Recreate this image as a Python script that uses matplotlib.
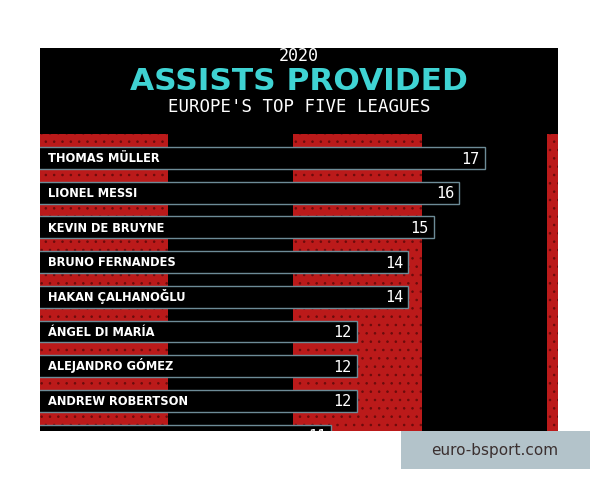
import matplotlib
matplotlib.use("Agg")
from matplotlib import pyplot as plt
import matplotlib.patches as mpatches

players = ["THOMAS MÜLLER", "LIONEL MESSI", "KEVIN DE BRUYNE", "BRUNO FERNANDES",
           "HAKAN ÇALHANOĞLU", "ÁNGEL DI MARÍA", "ALEJANDRO GÓMEZ",
           "ANDREW ROBERTSON", "JADON SANCHO"]
assists = [17, 16, 15, 14, 14, 12, 12, 12, 11]

year = "2020"
title = "ASSISTS PROVIDED"
subtitle = "EUROPE'S TOP FIVE LEAGUES"
watermark = "euro-bsport.com"

W, H = 600, 480
plt.rcParams["hatch.linewidth"] = 0.6


def box(x0, y0, x1, y1):
    # pixel box (top-left origin) -> figure fraction rect
    return [x0 / W, 1 - y1 / H, (x1 - x0) / W, (y1 - y0) / H]


fig = plt.figure(figsize=(6, 4.8), dpi=100)
fig.patch.set_facecolor("white")

# background panel with red stripes
bg = fig.add_axes(box(40, 48, 558, 431))
bg.set_xlim(40, 558)
bg.set_ylim(431, 48)
bg.set_facecolor("black")
for s in bg.spines.values():
    s.set_visible(False)
bg.set_xticks([])
bg.set_yticks([])
for x0, x1 in [(40, 168), (293, 422), (547, 558)]:
    bg.add_patch(mpatches.Rectangle((x0, 134), x1 - x0, 300, facecolor="#bb1a1a",
                                    edgecolor="#6a0c0c", hatch="..", lw=0))

# bars
ax = fig.add_axes(box(40, 48, 558, 431))
ax.patch.set_alpha(0)
ax.set_xlim(-0.383, 19.85)
ax.set_ylim(7.87, -3.17)
for s in ax.spines.values():
    s.set_visible(False)
ax.set_xticks([])
ax.set_yticks([])

idx = list(range(len(players)))
ax.barh(idx, [v + 1 for v in assists], left=-1, height=0.63, color="black",
        edgecolor="#6d8b97", linewidth=1)
for i, (name, v) in enumerate(zip(players, assists)):
    # baseline placed so capitals sit centred in the bar
    ax.text(-0.07, i + 0.125, name, color="white", fontsize=8.3, fontweight="bold",
            va="baseline", ha="left", clip_on=True)
    ax.text(v - 0.2, i + 0.16, str(v), color="white", fontsize=11,
            family="DejaVu Sans Mono", va="baseline", ha="right", clip_on=True)

# titles
fig.text(299 / W, 1 - 56 / H, year, color="white", fontsize=12,
         family="DejaVu Sans Mono", ha="center", va="center")
fig.text(299 / W, 1 - 81 / H, title, color="#3fd3d3", fontsize=22.5,
         fontweight="heavy", ha="center", va="center")
fig.text(299 / W, 1 - 107 / H, subtitle, color="white", fontsize=12.5,
         family="DejaVu Sans Mono", ha="center", va="center")

# watermark
fig.patches.append(mpatches.Rectangle((401 / W, 1 - 469 / H), 189 / W, 38 / H,
                                      transform=fig.transFigure, facecolor="#b3c3ca",
                                      edgecolor="none"))
fig.text(495 / W, 1 - 450 / H, watermark, color="#3b3030", fontsize=11,
         ha="center", va="center")

fig.savefig("out.png", dpi=100)
